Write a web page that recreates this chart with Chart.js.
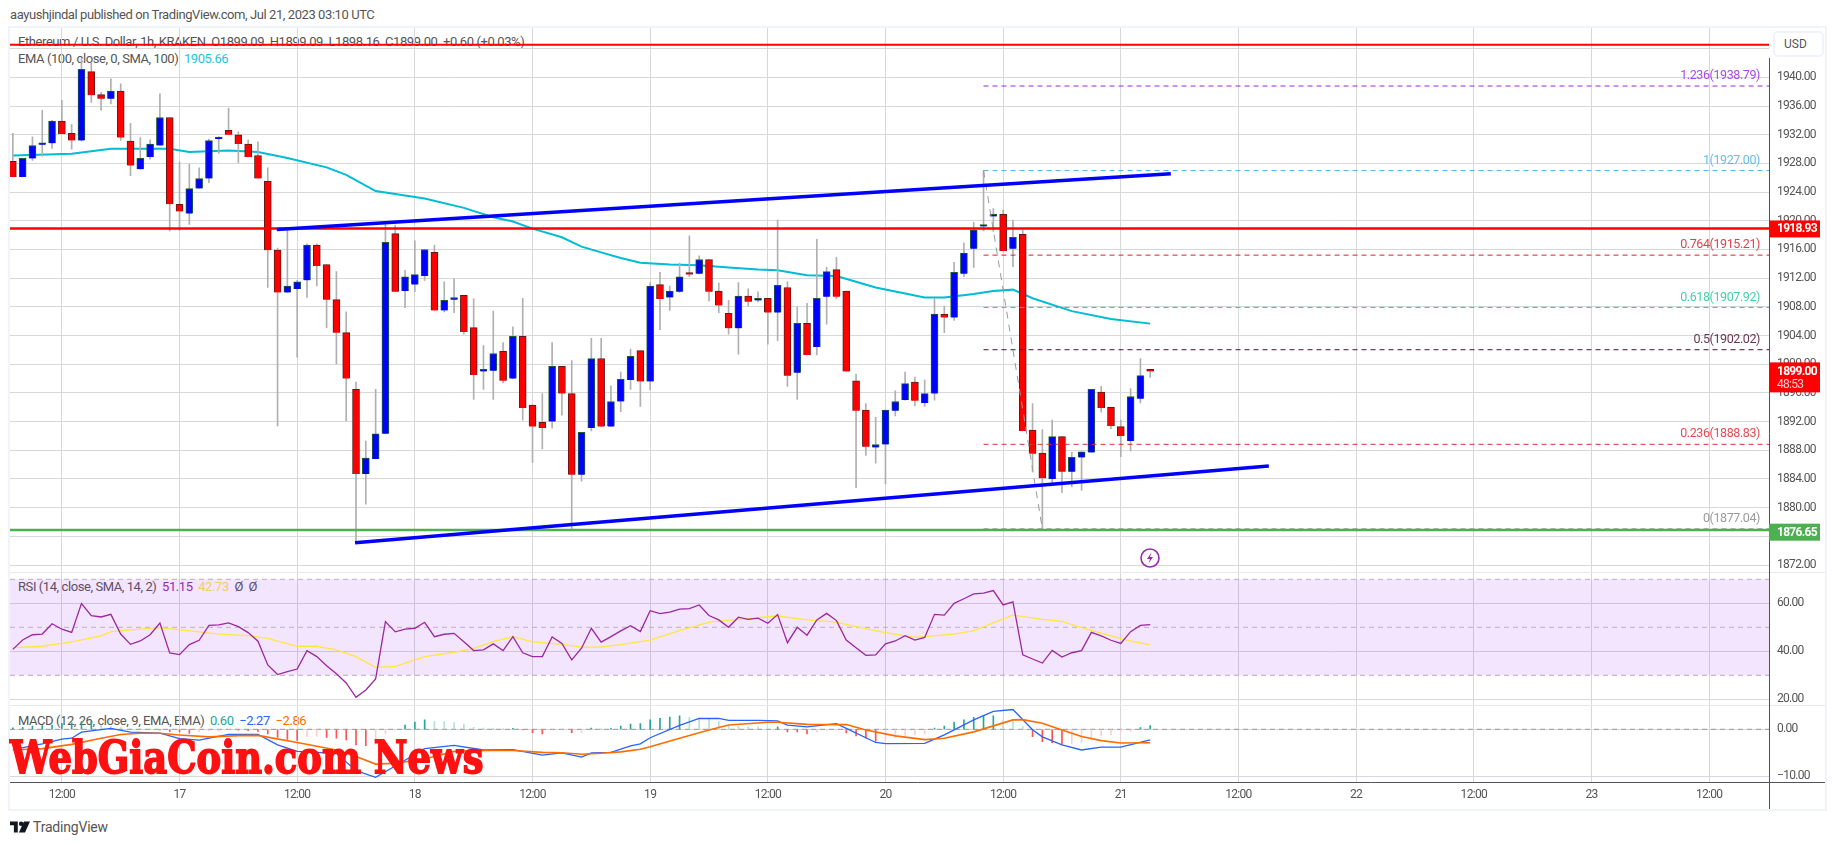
<!DOCTYPE html>
<html>
<head>
<meta charset="utf-8">
<title>Ethereum / U.S. Dollar</title>
<script src="https://cdn.jsdelivr.net/npm/chart.js@4"></script>
<style>
  html, body { margin: 0; padding: 0; background: #fff; }
  body { width: 1835px; height: 845px; position: relative; overflow: hidden; font-family: Roboto, sans-serif; color: #555; }
  #frame { position: absolute; left: 8px; top: 26px; width: 1815px; height: 781px; border: 2px solid #f0f3fa; }
  #myChart { position: absolute; left: 0; top: 0; z-index: 1; }
  .t { position: absolute; white-space: nowrap; font-size: 13px; letter-spacing: -0.42px; line-height: 16px; z-index: 0; }
  #usd { position: absolute; left: 1773px; top: 31px; width: 47px; height: 22px; border: 2px solid #f0f3fa; border-radius: 5px; background: #fff; z-index: 2; font-size: 12px; line-height: 22px; text-indent: 9px; }
  #mark { position: absolute; left: 10px; top: 732px; z-index: 3; font-family: "DejaVu Serif", serif; font-weight: bold; font-size: 45px; line-height: 52px; color: #ff1111; -webkit-text-stroke: 1.8px #ff1111; transform-origin: left top; transform: scaleX(0.82); white-space: nowrap; }
  #bolt { position: absolute; left: 1140px; top: 548px; z-index: 2; }
  #logo { position: absolute; left: 10px; top: 821px; }
</style>
</head>
<body>
<div id="frame"></div>
<div class="t" style="left:10px;top:7px">aayushjindal published on TradingView.com, Jul 21, 2023 03:10 UTC</div>
<div class="t" style="left:18px;top:34px">Ethereum / U.S. Dollar, 1h, KRAKEN&nbsp; O1899.09&nbsp; H1899.09&nbsp; L1898.16&nbsp; C1899.00&nbsp; +0.60 (+0.03%)</div>
<div class="t" style="left:18px;top:51px">EMA (100, close, 0, SMA, 100)&nbsp; <span style="color:#1cc5dc">1905.66</span></div>
<div class="t" style="left:18px;top:579px">RSI (14, close, SMA, 14, 2)&nbsp; <span style="color:#9c27b0">51.15</span>&nbsp; <span style="color:#ffe34d">42.73</span>&nbsp; Ø&nbsp; Ø</div>
<div class="t" style="left:18px;top:713px">MACD (12, 26, close, 9, EMA, EMA)&nbsp; <span style="color:#26a69a">0.60</span>&nbsp; <span style="color:#2962ff">−2.27</span>&nbsp; <span style="color:#ff6d00">−2.86</span></div>
<div id="usd">USD</div>
<svg id="bolt" width="20" height="20" viewBox="0 0 20 20"><circle cx="10" cy="10" r="9" fill="#fff" stroke="#9c27b0" stroke-width="1.6"/><path d="M11.5 4.5 L7 11 L10 11 L8.5 15.5 L13 9 L10 9 Z" fill="#9c27b0"/></svg>
<div id="mark">WebGiaCoin.com News</div>
<svg id="logo" width="20" height="12" viewBox="0 0 36 20"><path d="M0 0 H14 V20 H7 V7 H0 Z" fill="#131722"/><circle cx="20" cy="4" r="4" fill="#131722"/><path d="M25 0 H36 L27 20 H16 Z" fill="#131722"/></svg>
<div class="t" style="left:33px;top:819px;font-size:14px;letter-spacing:-0.2px">TradingView</div>
<canvas id="myChart" width="1835" height="845"></canvas>

<script>
// hours counted from Jul 17 00:00, first candle is Jul 16 07:00
const firstHour = -17;

const opens = [1928.3,1926.1,1928.7,1930.6,1930.8,1933.9,1932.2,1931.2,1940.8,1937.6,1937.0,1938.1,1931.1,1927.2,1928.9,1930.5,1934.4,
  1922.3,1921.0,1924.5,1925.9,1931.4,1932.6,1932.0,1930.7,1929.1,1925.5,1915.9,1910.0,1910.5,1911.7,1916.6,1913.9,1909.0,1904.4,1896.5,1884.7,1886.8,1890.3,1918.2,
  1910.2,1911.1,1912.3,1915.6,1907.5,1909.0,1909.6,1905.1,1899.0,1899.1,1901.8,1898.0,1903.9,1894.3,1891.9,1892.0,1899.7,1895.9,1884.6,1891.1,1900.8,1891.3,1894.8,1897.8,1901.9,
  1897.6,1911.1,1909.3,1910.1,1912.7,1912.6,1914.6,1910.2,1907.1,1905.0,1909.5,1908.9,1909.2,1907.2,1910.7,1898.8,1905.7,1902.4,1909.4,1913.2,1910.2,1897.7,1893.6,1888.4,
  1888.8,1893.5,1895.0,1897.5,1894.6,1895.9,1907.0,1906.5,1912.6,1916.1,1919.2,1920.6,1920.9,1916.1,1918.1,1890.8,1887.6,1884.0,1889.9,1885.0,1887.0,1887.7,1896.1,1894.0,1891.3,1889.3,1895.2,1899.09];
const highs = [1932.2,1928.7,1931.7,1935.4,1934.0,1936.8,1933.4,1942.6,1942.0,1937.9,1939.8,1939.1,1933.6,1931.6,1931.3,1937.7,1934.4,
  1928.2,1927.9,1927.4,1931.4,1931.7,1935.7,1932.4,1931.3,1931.0,1927.4,1916.2,1918.7,1911.7,1916.8,1916.8,1913.9,1912.9,1907.3,1897.5,1889.3,1896.5,1919.6,1919.4,
  1913.1,1917.2,1916.0,1916.6,1911.5,1911.9,1909.6,1909.1,1902.6,1907.4,1903.0,1905.2,1909.2,1894.3,1895.9,1903.0,1899.7,1900.5,1890.5,1903.6,1903.6,1897.0,1898.9,1902.1,1901.9,
  1911.4,1912.8,1910.9,1914.1,1917.9,1915.1,1914.6,1911.3,1908.9,1911.4,1910.5,1910.1,1909.2,1920.1,1911.5,1908.0,1908.5,1917.4,1913.5,1914.9,1910.2,1898.6,1894.5,1892.6,
  1893.6,1896.3,1898.9,1898.2,1897.8,1909.2,1908.1,1914.2,1916.9,1919.8,1927.0,1921.7,1921.5,1920.1,1918.7,1894.5,1890.9,1892.2,1889.9,1887.7,1887.8,1896.5,1896.9,1894.0,1892.2,1896.6,1900.8,1899.09];
const lows = [1926.1,1926.1,1928.4,1929.0,1930.1,1932.1,1930.0,1931.1,1936.5,1935.4,1936.3,1931.2,1926.3,1927.2,1928.6,1930.5,1918.6,
  1918.7,1919.5,1924.5,1925.3,1929.4,1932.0,1928.1,1928.9,1925.9,1910.7,1891.4,1910.0,1901.0,1909.3,1910.9,1905.1,1900.0,1892.1,1875.2,1880.5,1886.8,1890.3,1910.1,
  1907.9,1910.1,1911.7,1907.5,1907.3,1907.2,1904.2,1895.1,1896.5,1895.1,1897.4,1898.0,1892.2,1886.3,1888.2,1891.1,1892.9,1876.9,1883.7,1890.7,1891.3,1891.3,1893.4,1896.5,1894.1,
  1896.4,1904.8,1907.5,1910.0,1912.2,1912.6,1908.8,1907.2,1904.2,1901.4,1908.1,1908.7,1902.8,1903.3,1896.9,1895.1,1901.3,1901.3,1905.6,1909.1,1899.0,1882.8,1887.3,1886.2,
  1883.3,1892.8,1895.0,1894.2,1894.1,1895.0,1904.4,1906.1,1912.2,1913.5,1918.6,1918.5,1915.8,1913.6,1890.7,1885.1,1877.04,1883.4,1882.1,1882.9,1882.4,1887.7,1893.3,1891.0,1887.1,1887.9,1894.6,1898.16];
const closes = [1926.1,1928.7,1930.5,1930.8,1933.9,1932.1,1931.2,1941.1,1937.5,1937.0,1938.1,1931.6,1927.7,1928.7,1930.7,1934.4,1922.3,
  1921.3,1924.5,1925.9,1931.2,1931.5,1932.0,1930.7,1928.9,1925.9,1915.9,1910.0,1910.9,1911.5,1916.6,1913.7,1909.0,1904.4,1898.0,1884.7,1886.9,1890.3,1917.0,1910.1,
  1912.2,1912.5,1916.0,1907.5,1908.9,1909.3,1904.5,1898.5,1899.1,1901.5,1897.7,1903.9,1893.9,1891.3,1891.1,1899.7,1895.9,1884.6,1890.5,1900.8,1891.3,1894.8,1897.9,1901.1,1897.6,
  1910.9,1909.1,1910.2,1912.2,1912.5,1914.6,1910.1,1908.2,1905.0,1909.5,1908.7,1909.2,1907.2,1911.0,1898.4,1905.7,1901.3,1909.2,1912.9,1909.4,1899.0,1893.5,1888.5,1888.8,
  1893.6,1894.8,1897.3,1894.9,1895.9,1907.0,1906.5,1912.8,1915.5,1918.7,1919.4,1920.9,1915.8,1917.7,1890.7,1887.5,1884.1,1889.9,1885.0,1887.0,1887.8,1896.5,1893.9,1891.4,1890.0,1895.5,1898.4,1899.00];

const emaHours = [-17,-11,-7,-5,-1,1,5,8,11,15,17,20,25,29,32,34,36,39,41,43,45,47,50,53,56,59,61,64,67,71,76,78,81,83,85,87,91,95,99];
const emaValues = [1929.1,1929.35,1930.05,1930.05,1930.05,1929.6,1929.8,1929.6,1928.75,1927.45,1926.4,1924.15,1923.1,1921.8,1920.5,1919.9,1918.9,1917.7,1916.4,1915.6,1914.8,1914.15,1913.9,1913.8,1913.5,1913.2,1913.1,1912.4,1912.3,1910.7,1909.3,1909.3,1909.8,1910.2,1910.4,1909.2,1907.4,1906.3,1905.66];

const rsiValues = [40.8,44.7,46.9,47.2,51.5,49.2,47.9,59.9,54.9,54.3,55.4,47.2,42.9,44.3,46.9,51.8,39.3,
  38.6,42.8,44.6,50.8,51.0,51.8,50.3,47.8,44.2,34.3,30.3,31.5,32.6,40.3,37.8,34.0,30.6,26.8,20.8,23.9,28.5,52.4,48.1,
  49.2,49.6,52.1,46.1,47.1,47.5,44.0,40.3,40.6,43.1,40.3,46.1,39.4,37.8,37.8,46.0,43.3,36.4,41.3,49.6,43.8,46.1,48.5,50.7,48.2,
  56.9,55.7,56.3,57.6,57.8,59.3,54.9,53.1,50.0,54.2,53.3,53.8,51.7,55.3,43.6,50.0,46.7,53.1,55.8,52.8,44.7,41.5,38.3,38.5,
  43.1,44.3,46.5,44.7,45.8,55.4,55.1,60.0,61.9,63.9,64.2,65.3,59.3,60.6,38.5,36.8,35.1,40.4,37.6,39.4,40.3,47.9,46.4,44.6,43.3,48.2,50.8,51.15];
const rsiMaHours = [-17,-14,-11,-8,-7,-5,-2,0,2,4,7,9,12,14,16,18,20,22,25,28,30,32,34,36,39,41,43,45,47,48,51,54,57,60,61,64,67,69,72,75,79,81,85,88,90,92,95,97,99];
const rsiMaValues = [41.5,42.1,43.9,46.4,48.2,48.9,49.9,48.9,48.1,47.2,46.5,45.4,42.1,42.1,40.6,37.8,33.3,33.75,37.8,39.6,41.25,44.0,46.1,43.9,42.9,41.7,41.8,42.8,44.0,44.7,48.6,52.2,53.3,54.4,54.7,53.1,52.2,50.3,47.8,45.8,47.2,48.6,55.1,53.3,52.5,49.9,46.4,44.2,42.73];

const macdHours = [-17,-14,-12,-11,-10,-7,-5,-2,0,2,5,8,10,12,16,18,20,22,25,28,31,34,37,39,41,42,44,46,47,48,51,53,55,56,59,61,62,64,67,68,71,72,76,78,81,83,85,87,88,90,92,94,96,99];
const macdValues = [-4.3,-3.1,-2.1,-1.9,-0.6,0.2,-0.6,-0.8,-2.0,-2.3,-1.1,-1.1,-3.3,-4.7,-5.1,-8.8,-10.2,-7.8,-4.1,-3.4,-4.4,-4.3,-5.5,-5.0,-5.9,-5.0,-4.9,-3.5,-3.1,-1.8,0.85,2.3,2.3,1.9,1.9,1.8,0.9,0.5,1.2,0.2,-2.8,-3.05,-3.0,-1.2,2.0,3.8,4.2,-0.1,-1.6,-3.3,-4.4,-3.8,-3.8,-2.27];
const signalHours = [-17,-14,-11,-8,-6,-4,-2,0,3,6,8,12,16,18,20,22,25,28,31,34,37,39,41,43,45,47,48,51,54,56,60,61,64,68,70,73,76,78,81,85,86,88,90,92,94,96,99];
const signalValues = [-4.4,-4.1,-3.2,-1.9,-1.1,-0.85,-0.85,-1.2,-1.6,-1.35,-1.3,-2.8,-4.4,-5.8,-7.4,-7.2,-6.3,-4.7,-4.5,-4.5,-4.9,-5.0,-5.3,-5.1,-4.8,-4.25,-3.7,-1.9,-0.15,0.9,1.5,1.5,1.05,1.0,-0.15,-1.4,-2.2,-1.9,-0.55,2.0,2.05,1.3,-0.15,-1.55,-2.4,-2.9,-2.86];
const histValues = [0.3,0.43,0.71,0.78,0.92,1.28,1.35,1.63,1.7,0.92,0.57,0.35,0.2,0.14,0.07,-0.07,-0.5,
  -0.57,-0.85,-0.5,-0.35,-0.28,-0.14,-0.21,-0.28,-0.43,-1,-1.7,-2.13,-2.34,-1.56,-1.49,-1.7,-1.91,-2.27,-3.33,-3.48,-3.19,-1,-0.07,
  0.92,1.56,1.99,1.7,1.65,1.42,1.13,0.43,0.28,0.21,0.14,0.21,-0.14,-0.71,-1,-0.21,-0.2,-0.71,-0.7,0.28,0.14,0.21,0.71,1.13,1.2,
  1.99,2.34,2.62,2.84,2.55,2.41,2.13,1.63,0.92,0.57,0.55,0.5,0.07,0.5,-0.57,-0.58,-1,-0.57,-0.21,-0.07,-0.78,-1.42,-1.91,-2.55,
  -2.27,-1.7,-1.42,-1.21,-1,0.28,0.71,1.56,1.99,2.55,2.84,2.85,1.99,1.84,0.57,-1.56,-2.62,-2.84,-3.19,-3.12,-2.84,-2.06,-1.42,-1.21,-0.57,-0.43,0.35,0.78];

const priceTicks = [1872,1876,1880,1884,1888,1892,1896,1900,1904,1908,1912,1916,1920,1924,1928,1932,1936,1940,1944];
const rsiTicks = [20,40,60];
const macdTicks = [-10,0];
const xTickHours = [-12,0,12,24,36,48,60,72,84,96,108,120,132,144,156];
const xTickLabels = ["12:00","17","12:00","18","12:00","19","12:00","20","12:00","21","12:00","22","12:00","23","12:00"];

const fibLevels = ["1.236","1","0.764","0.618","0.5","0.236","0"];
const fibPrices = [1938.79,1927.00,1915.21,1907.92,1902.02,1888.83,1877.04];
const fibColors = ["#9c27e0","#4db2e6","#d81e2c","#22c99a","#4a1034","#e02c34","#8a8a8a"];
const fibStartHour = 82;
const fibEndHour = 88;

const resistanceLevel = 1918.93;
const supportLevel = 1876.65;
const supportLine = 1876.9;
const topLine = 1944.55;
const lastPrice = 1899.00;
const upperTrendHours = [9.92,101.1];
const upperTrendPrices = [1918.8,1926.55];
const lowerTrendHours = [17.9,111.1];
const lowerTrendPrices = [1875.1,1885.8];

const xMin = -17.29;
const xMax = 162.11;

const axisFont = { size: 12, family: "Roboto, sans-serif" };

function points(xs, ys) {
  return xs.map((x, i) => ({ x: x, y: ys[i] }));
}
function flatLine(value, from) {
  return [{ x: from, y: value }, { x: xMax, y: value }];
}
function lineSet(data, color, width, axis, order, dash) {
  return {
    type: "line", data: data, yAxisID: axis, borderColor: color, borderWidth: width,
    pointRadius: 0, tension: 0, fill: false, order: order, borderDash: dash || []
  };
}

const candleHours = opens.map((v, i) => firstHour + i);
const upCandle = opens.map((v, i) => closes[i] >= opens[i]);

// color del histograma, igual que el MACD de TradingView
const histColors = histValues.map((v, i) => {
  const prev = i > 0 ? histValues[i - 1] : 0;
  if (v >= 0) return v >= prev ? "#26a69a" : "#b2dfdb";
  return v < prev ? "#ff5252" : "#ffcdd2";
});

const datasets = [
  // banda RSI
  Object.assign(lineSet(flatLine(70, xMin), "#b9aec4", 1, "rsi", 20, [5, 4]), { fill: "+1", backgroundColor: "rgba(156,39,240,0.12)" }),
  lineSet(flatLine(30, xMin), "#b9aec4", 1, "rsi", 20, [5, 4]),
  lineSet(flatLine(50, xMin), "#b9aec4", 1, "rsi", 19, [5, 4]),
  lineSet(flatLine(0, xMin), "#9a9a9a", 1, "macd", 19, [5, 4]),
  // velas
  lineSet(points(emaHours, emaValues), "#00bcd4", 2, "price", 12),
  {
    label: "wicks", data: candleHours.map((h, i) => ({ x: h, y: [lows[i], highs[i]] })),
    yAxisID: "price", backgroundColor: "#b0b0b0", barThickness: 1, order: 11
  },
  {
    label: "bodies", data: candleHours.map((h, i) => ({ x: h, y: [opens[i], closes[i]] })),
    yAxisID: "price", barThickness: 7, minBarLength: 2, borderWidth: 1, order: 10,
    backgroundColor: upCandle.map(u => (u ? "#0000ff" : "#ff0000")),
    borderColor: upCandle.map(u => (u ? "#1b5e30" : "#5d1a1a"))
  },
  // dibujos encima de las velas
  lineSet(points([fibStartHour, fibEndHour], [fibPrices[1], fibPrices[6]]), "#9a9a9a", 1, "price", 5, [7, 6]),
  lineSet(flatLine(resistanceLevel, xMin), "#ff0000", 2.5, "price", 3),
  lineSet(flatLine(topLine, xMin), "#ff0000", 2, "price", 3),
  lineSet(flatLine(supportLine, xMin), "#4caf50", 2.5, "price", 3),
  lineSet(points(upperTrendHours, upperTrendPrices), "#0000ff", 3.5, "price", 2),
  lineSet(points(lowerTrendHours, lowerTrendPrices), "#0000ff", 3.5, "price", 2),
  // RSI
  lineSet(points(rsiMaHours, rsiMaValues), "#ffe640", 1.3, "rsi", 6),
  lineSet(points(candleHours, rsiValues), "#9c27a0", 1.3, "rsi", 5),
  // MACD
  {
    label: "hist", data: points(candleHours, histValues), yAxisID: "macd",
    backgroundColor: histColors, barThickness: 1, order: 8
  },
  lineSet(points(macdHours, macdValues), "#2962ff", 1.3, "macd", 6),
  lineSet(points(signalHours, signalValues), "#ff6d00", 1.6, "macd", 5)
];

fibPrices.forEach((p, i) => {
  datasets.push(lineSet(flatLine(p, fibStartHour), fibColors[i], 1, "price", 7, [5, 4]));
});

// lineas del marco, etiquetas fibonacci y precios sobre el eje
const overlay = {
  id: "overlay",
  beforeDraw(chart) {
    // los numeros de TradingView son mas estrechos que Roboto
    chart.ctx.letterSpacing = "-0.7px";
  },
  afterDraw(chart) {
    const c = chart.ctx;
    const area = chart.chartArea;
    const price = chart.scales.price;
    const right = chart.width - 10;

    c.save();
    c.strokeStyle = "#e6e8ef";
    c.lineWidth = 1;
    [price.bottom, chart.scales.rsi.bottom].forEach(y => {
      c.beginPath();
      c.moveTo(area.left, Math.round(y) + 0.5);
      c.lineTo(right, Math.round(y) + 0.5);
      c.stroke();
    });
    c.strokeStyle = "#50535e";
    c.beginPath();
    c.moveTo(area.right + 0.5, 58);
    c.lineTo(area.right + 0.5, chart.scales.x.bottom);
    c.moveTo(area.left, area.bottom + 0.5);
    c.lineTo(right, area.bottom + 0.5);
    c.stroke();

    c.font = "12.5px Roboto, sans-serif";
    c.letterSpacing = "-0.4px";
    c.textAlign = "right";
    c.textBaseline = "middle";
    fibLevels.forEach((lvl, i) => {
      c.fillStyle = fibColors[i];
      c.globalAlpha = 0.85;
      c.fillText(lvl + "(" + fibPrices[i].toFixed(2) + ")", area.right - 9, price.getPixelForValue(fibPrices[i]) - 10);
    });
    c.globalAlpha = 1;

    c.textAlign = "left";
    c.letterSpacing = "-0.7px";
    c.font = "bold 12px Roboto, sans-serif";
    const tag = (value, color) => {
      const y = price.getPixelForValue(value);
      c.fillStyle = color;
      c.fillRect(area.right, y - 8, 51, 17);
      c.fillStyle = "#fff";
      c.fillText(value.toFixed(2), area.right + 8, y + 1);
    };
    tag(resistanceLevel, "#ff0000");
    tag(supportLevel, "#4caf50");

    const lastY = price.getPixelForValue(lastPrice);
    c.fillStyle = "#ff0000";
    c.fillRect(area.right, lastY - 9, 51, 30);
    c.fillStyle = "#fff";
    c.fillText(lastPrice.toFixed(2), area.right + 8, lastY + 1);
    c.fillStyle = "rgba(255,255,255,0.8)";
    c.font = "12px Roboto, sans-serif";
    c.fillText("48:53", area.right + 8, lastY + 14);
    c.restore();
  }
};

function yScale(min, max, ticks, weight, order) {
  return {
    type: "linear", position: "right", stack: "panes", stackWeight: weight, weight: order,
    min: min, max: max,
    afterBuildTicks: s => { s.ticks = ticks.map(v => ({ value: v })); },
    afterFit: s => { s.width = 56; },
    border: { display: false },
    grid: { color: "#d8d8d8", drawTicks: false },
    ticks: {
      autoSkip: false, padding: 8, color: "#555", font: axisFont,
      callback: v => (v === 1944 ? "" : v.toFixed(2).replace("-", "−"))
    }
  };
}

new Chart(document.getElementById("myChart").getContext("2d"), {
  type: "bar",
  data: { datasets: datasets },
  plugins: [overlay],
  options: {
    responsive: false,
    animation: false,
    grouped: false,
    layout: { padding: { left: 10, top: 28, right: 10, bottom: 36 } },
    plugins: { legend: { display: false }, tooltip: { enabled: false } },
    scales: {
      x: {
        type: "linear", min: xMin, max: xMax, offset: false,
        afterBuildTicks: s => { s.ticks = xTickHours.map(v => ({ value: v })); },
        afterFit: s => { s.height = 27; },
        border: { display: false },
        grid: { color: "#d8d8d8", offset: false, drawTicks: false },
        ticks: {
          autoSkip: false, maxRotation: 0, padding: 6, color: "#555", font: axisFont,
          callback: v => xTickLabels[xTickHours.indexOf(v)]
        }
      },
      price: yScale(1871.07, 1946.88, priceTicks, 543.7, 1),
      rsi: yScale(17.5, 73.17, rsiTicks, 133.6, 2),
      macd: yScale(-11.2, 5.1, macdTicks, 76.7, 3)
    }
  }
});
</script>
</body>
</html>
